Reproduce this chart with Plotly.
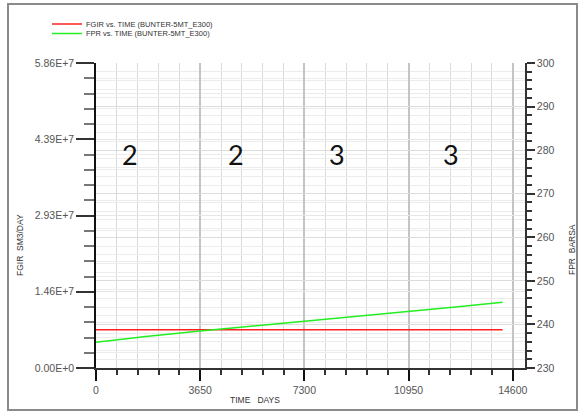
import plotly.graph_objects as go

# ---- data ----
time_days = [0, 1825, 3650, 5475, 7300, 9125, 10950, 12775, 14245]
fpr_barsa = [235.9, 237.3, 238.5, 239.6, 240.7, 241.9, 243.0, 244.1, 245.1]
fgir_sm3_day = [7.35e6, 7.35e6, 7.35e6, 7.35e6, 7.35e6, 7.35e6, 7.35e6, 7.35e6, 7.35e6]

x_ticks = [0, 3650, 7300, 10950, 14600]
x_labels = ["0", "3650", "7300", "10950", "14600"]
y_left_ticks = [0, 1.465e7, 2.93e7, 4.395e7, 5.86e7]
y_left_labels = ["0.00E+0", "1.46E+7", "2.93E+7", "4.39E+7", "5.86E+7"]
region_labels = ["2", "2", "3", "3"]
region_x = [1200, 4900, 8450, 12450]

legend_names = ["FGIR vs. TIME (BUNTER-5MT_E300)", "FPR vs. TIME (BUNTER-5MT_E300)"]
colors = ["#ff2020", "#22ee22"]

W, H = 578, 412
L, R, T, B = 96, 53, 63, 44
pw, ph = W - L - R, H - T - B


def px(xp):
    return (xp - L) / pw


def py(yp):
    return (H - B - yp) / ph


tickfont = dict(family="Liberation Sans, Arial", size=10.5, color="#555")

fig = go.Figure()
fig.add_trace(go.Scatter(x=time_days, y=fgir_sm3_day, mode="lines",
                         line=dict(color=colors[0], width=1.5),
                         name=legend_names[0], showlegend=False, yaxis="y"))
fig.add_trace(go.Scatter(x=time_days, y=fpr_barsa, mode="lines",
                         line=dict(color=colors[1], width=1.5),
                         name=legend_names[1], showlegend=False, yaxis="y2"))

shapes = []
annotations = []

# outer frame
shapes.append(dict(type="rect", xref="paper", yref="paper",
                   x0=px(8), x1=px(577), y0=py(410), y1=py(4),
                   line=dict(color="#8a8a8a", width=2), layer="below"))

# custom legend
for i, (name, c) in enumerate(zip(legend_names, colors)):
    yy = 24 + i * 9.5
    shapes.append(dict(type="line", xref="paper", yref="paper",
                       x0=px(52), x1=px(82), y0=py(yy), y1=py(yy),
                       line=dict(color=c, width=1.5)))
    annotations.append(dict(xref="paper", yref="paper", x=px(84), y=py(yy),
                            text=name, showarrow=False, xanchor="left",
                            yanchor="middle",
                            font=dict(family="Liberation Sans, Arial", size=7.5, color="#333")))

# region labels
for lab, xv in zip(region_labels, region_x):
    annotations.append(dict(xref="x", yref="paper", x=xv, y=py(154),
                            text=lab, showarrow=False, xanchor="center",
                            yanchor="middle",
                            font=dict(family="Lato, Liberation Sans", size=27, color="#111")))

# axis titles
annotations.append(dict(xref="paper", yref="paper", x=px(255), y=py(400),
                        text="TIME &nbsp;&nbsp;DAYS", showarrow=False,
                        xanchor="center", yanchor="middle",
                        font=dict(family="Liberation Sans, Arial", size=8.5, color="#333")))
annotations.append(dict(xref="paper", yref="paper", x=px(20), y=py(245),
                        text="FGIR &nbsp;SM3/DAY", showarrow=False, textangle=-90,
                        xanchor="center", yanchor="middle",
                        font=dict(family="Liberation Sans, Arial", size=8.5, color="#333")))
annotations.append(dict(xref="paper", yref="paper", x=px(572), y=py(250),
                        text="FPR &nbsp;BARSA", showarrow=False, textangle=-90,
                        xanchor="center", yanchor="middle",
                        font=dict(family="Liberation Sans, Arial", size=8.5, color="#333")))

fig.update_layout(
    width=W, height=H,
    margin=dict(l=L, r=R, t=T, b=B),
    paper_bgcolor="white", plot_bgcolor="white",
    shapes=shapes, annotations=annotations,
    xaxis=dict(range=[0, 15030], tickvals=x_ticks, ticktext=x_labels,
               ticks="outside", ticklen=11,
               tickwidth=2, tickcolor="#111", tickfont=tickfont,
               showline=True, linecolor="#333", linewidth=2,
               showgrid=True, gridcolor="#c4c4c4", gridwidth=2, zeroline=False,
               minor=dict(dtick=730, tick0=0, ticks="outside", ticklen=5,
                          tickcolor="#333", showgrid=True,
                          gridcolor="#dadada", gridwidth=1)),
    yaxis=dict(range=[0, 5.86e7], tickvals=y_left_ticks, ticktext=y_left_labels,
               ticks="outside", ticklen=18, tickwidth=2, tickcolor="#333",
               tickfont=tickfont, showline=True, linecolor="#111", linewidth=1.5,
               showgrid=True, gridcolor="#e6e6e6", gridwidth=1, zeroline=False,
               minor=dict(dtick=2.93e6, tick0=0, ticks="outside", ticklen=10,
                          tickcolor="#777", showgrid=True,
                          gridcolor="#ececec", gridwidth=1)),
    yaxis2=dict(range=[230, 300], overlaying="y", side="right", dtick=10,
                ticks="outside", ticklen=8, tickwidth=2, tickcolor="#333",
                tickfont=tickfont, showline=True, linecolor="#333", linewidth=1.5,
                showgrid=True, gridcolor="#dcdcdc", gridwidth=1, zeroline=False,
                minor=dict(dtick=2, tick0=230, ticks="outside", ticklen=5,
                           tickcolor="#333", showgrid=True,
                           gridcolor="#ececec", gridwidth=1)),
)

fig.write_html("out.html")
